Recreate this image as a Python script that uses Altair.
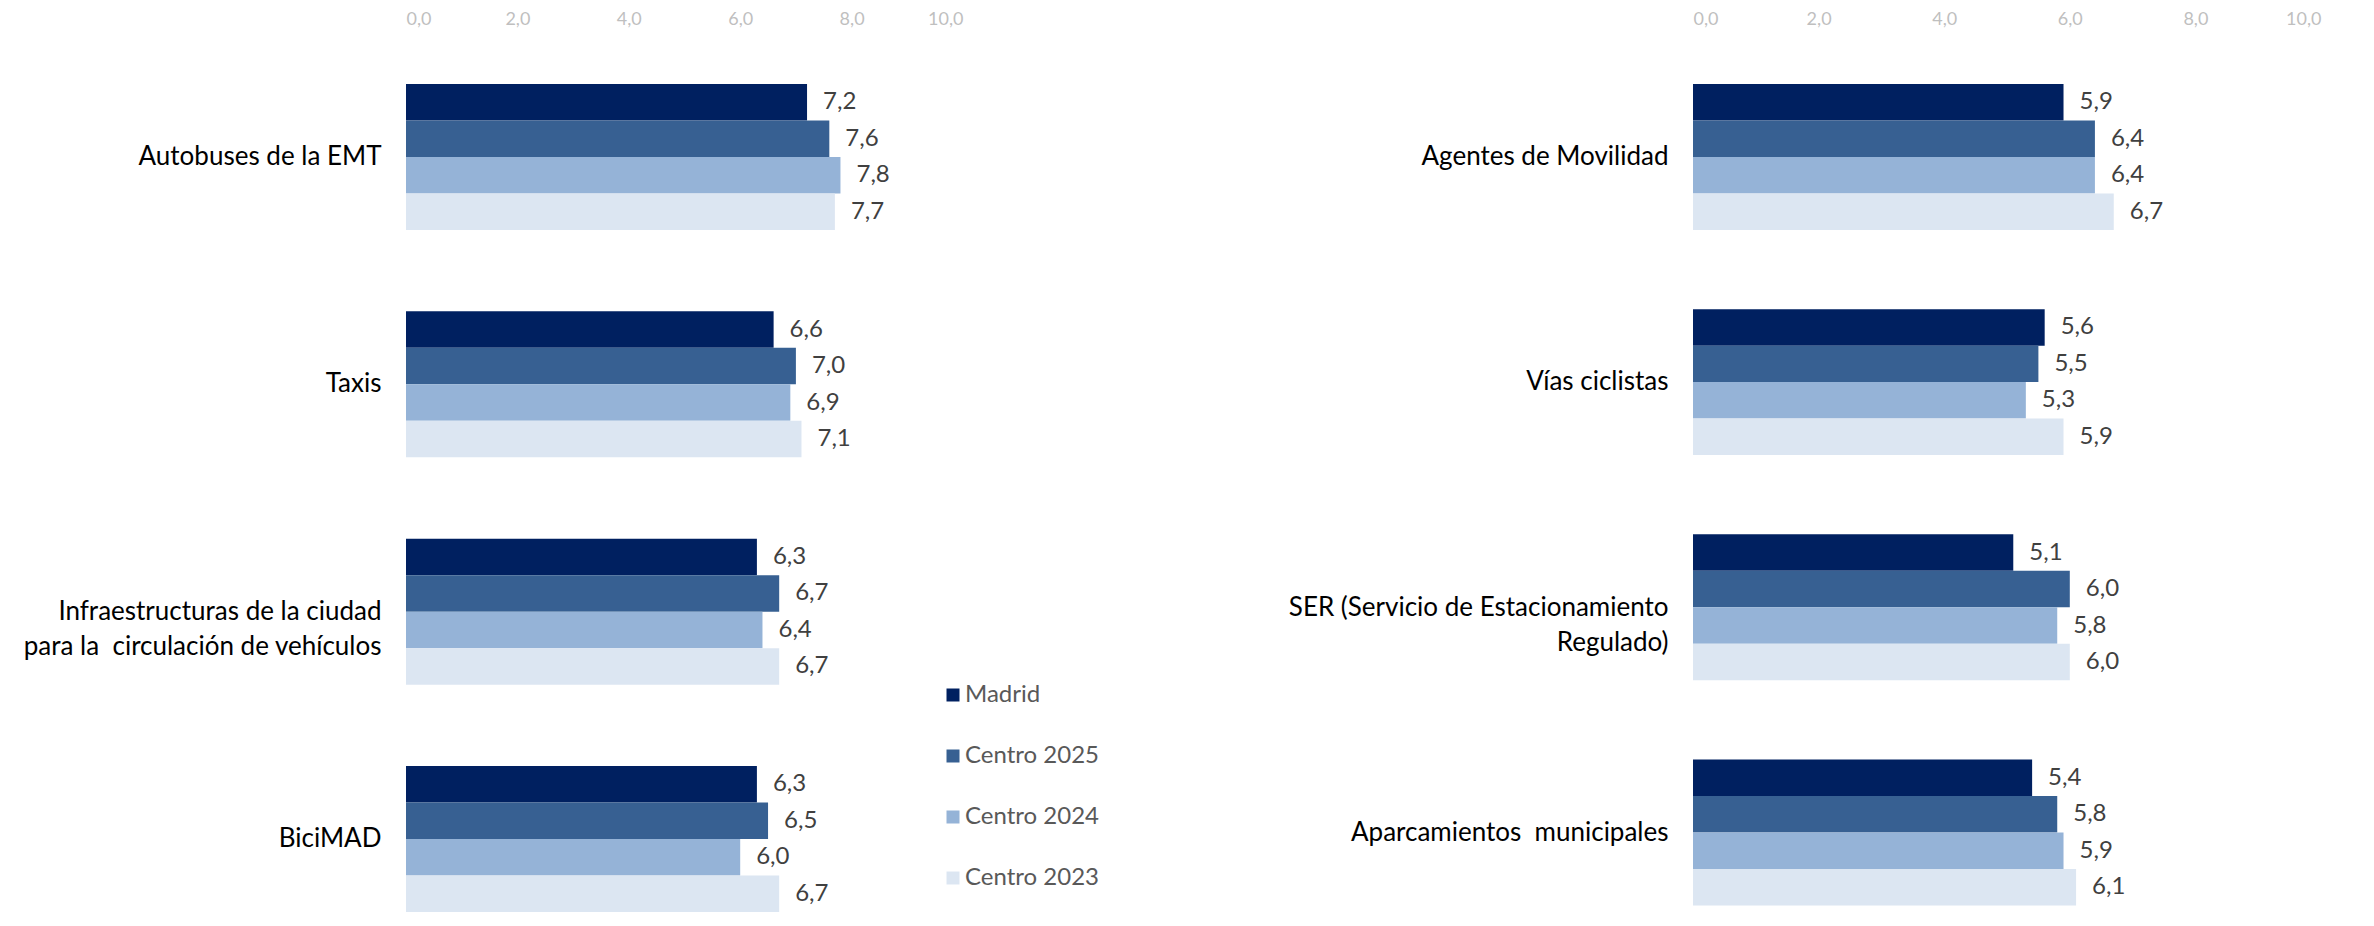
import altair as alt
import pandas as pd

series = ["Madrid", "Centro 2025", "Centro 2024", "Centro 2023"]
colors = ["#002060", "#376092", "#95B3D7", "#DCE6F2"]

left_cats = ["Autobuses de la EMT", "Taxis",
             "Infraestructuras de la ciudad|para la\u00a0 circulación de vehículos", "BiciMAD"]
left_madrid = [7.2, 6.6, 6.3, 6.3]
left_c2025 = [7.6, 7.0, 6.7, 6.5]
left_c2024 = [7.8, 6.9, 6.4, 6.0]
left_c2023 = [7.7, 7.1, 6.7, 6.7]

right_cats = ["Agentes de Movilidad", "Vías ciclistas\u00a0",
              "SER (Servicio de Estacionamiento|Regulado)", "Aparcamientos\u00a0 municipales"]
right_madrid = [5.9, 5.6, 5.1, 5.4]
right_c2025 = [6.4, 5.5, 6.0, 5.8]
right_c2024 = [6.4, 5.3, 5.8, 5.9]
right_c2023 = [6.7, 5.9, 6.0, 6.1]

x_ticks = [0, 2, 4, 6, 8, 10]


def make_df(cats, vals):
    rows = []
    for s, v in zip(series, vals):
        for c, val in zip(cats, v):
            rows.append({"cat": c, "serie": s, "value": val})
    return pd.DataFrame(rows)


df_left = make_df(left_cats, [left_madrid, left_c2025, left_c2024, left_c2023])
df_right = make_df(right_cats, [right_madrid, right_c2025, right_c2024, right_c2023])

FONT = "Lato"
legend = alt.Legend(orient="none", legendX=535, legendY=599, title=None,
                    symbolType="square", symbolSize=169, symbolStrokeWidth=0,
                    labelFontSize=24, labelColor="#595959", labelFont=FONT,
                    rowPadding=37, labelOffset=0, padding=0)


def panel(df, cats, width, height, pin):
    base = alt.Chart(df).transform_calculate(
        label="replace(format(datum.value, '.1f'), '.', ',')"
    ).encode(
        y=alt.Y("cat:N", sort=cats, title=None,
                scale=alt.Scale(paddingInner=pin, paddingOuter=0),
                axis=alt.Axis(domain=False, ticks=False, labelPadding=25,
                              labelFontSize=26, labelColor="#000000", labelFont=FONT,
                              labelLimit=1000, labelLineHeight=35,
                              labelExpr="split(datum.label, '|')")),
        yOffset=alt.YOffset("serie:N", sort=series,
                            scale=alt.Scale(paddingInner=0, paddingOuter=0)),
        x=alt.X("value:Q", title=None,
                scale=alt.Scale(domain=[0, 10], nice=False),
                axis=alt.Axis(orient="top", values=x_ticks, domain=False, ticks=False,
                              grid=False, labelPadding=56, labelFontSize=18,
                              labelColor="#BFBFBF", labelFont=FONT,
                              labelExpr="replace(format(datum.value, '.1f'), '.', ',')")),
    )
    bars = base.mark_bar().encode(
        color=alt.Color("serie:N", sort=series,
                        scale=alt.Scale(domain=series, range=colors), legend=legend)
    )
    text = base.mark_text(align="left", baseline="middle", dx=16, fontSize=24,
                          font=FONT, color="#404040").encode(text="label:N")
    return alt.layer(bars, text).properties(width=width, height=height)


left = panel(df_left, left_cats, 557, 828, 0.358)
right = panel(df_right, right_cats, 628, 822, 0.349)

chart = alt.hconcat(left, right, spacing=325).properties(
    padding={"left": 14, "top": 2, "right": 5, "bottom": 0}
).configure(font=FONT).configure_view(stroke=None, strokeWidth=0)

chart.save("out.html", embed_options={"renderer": "svg", "actions": False})
